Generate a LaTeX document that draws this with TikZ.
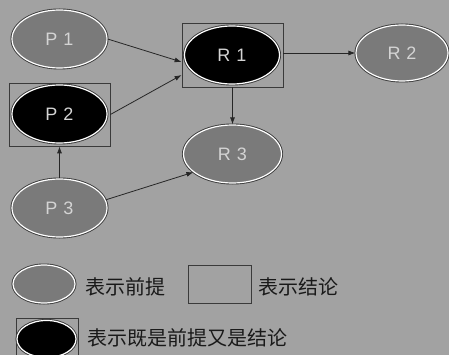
\documentclass[tikz,border=0pt]{standalone}
\usepackage{fontspec}
\setmainfont{Liberation Sans}
\newfontfamily\cjk{Noto Sans CJK SC}
\usetikzlibrary{shapes.geometric,arrows.meta,calc}
\definecolor{bg}{HTML}{A2A2A2}
\definecolor{hatchfill}{HTML}{7A7A7A}
\definecolor{lbl}{HTML}{D4D4D4}
\definecolor{rim}{HTML}{3A3A3A}
\tikzset{
  x=1pt,y=1pt,
  prem/.style={ellipse, minimum width=95pt, minimum height=58pt, inner sep=0pt,
    fill=hatchfill, draw=white, line width=1.2pt,
    preaction={draw=rim, line width=3pt},
    text=lbl, font=\fontsize{18}{18}\selectfont},
  both/.style={prem, fill=black},
  concl/.style={rectangle, draw=rim, line width=0.8pt, inner sep=0pt},
  conn/.style={-{Latex[length=7pt,width=5pt]}, line width=0.8pt, draw=black!85},
  legtext/.style={anchor=west, inner sep=0pt, text=black!90, font=\cjk\fontsize{20}{20}\selectfont}
}
\begin{document}
\begin{tikzpicture}
\useasboundingbox (0,0) rectangle (449,-355);
\clip (0,0) rectangle (449,-355);
\fill[bg] (0,0) rectangle (449,-355);

% conclusion boxes
\node[concl, minimum width=101pt, minimum height=64pt] (r1box) at (232.5,-55) {};
\node[concl, minimum width=101pt, minimum height=63pt] (p2box) at (59.5,-114.5) {};

% ellipses
\node[prem] (p1) at (59.5,-39) {P\,\,1};
\node[both] (p2) at (59.5,-114) {P\,\,2};
\node[prem] (p3) at (59.5,-208) {P\,\,3};
\node[both] (r1) at (232,-55) {R\,\,1};
\node[prem, minimum width=92pt, minimum height=56pt] (r2) at (402,-53) {R\,\,2};
\node[prem, minimum width=98pt, minimum height=58pt] (r3) at (232.5,-154) {R\,\,3};

% connectors
\draw[conn] (p1.east) -- ($(r1box.west)+(0,-7)$);
\draw[conn] (p2box.east) -- ($(r1box.west)+(0,-20)$);
\draw[conn] (r1box.east |- r2.west) -- (r2.west);
\draw[conn] (r1box.south) -- (r3.north);
\draw[conn] (p3.north) -- (p2box.south);
\draw[conn] (p3.10) -- (r3.205);

% legend
\node[prem, minimum width=62pt, minimum height=38pt] (lp) at (44,-284) {};
\node[legtext] (lpt) at (85,-287) {表示前提};
\node[concl, minimum width=63pt, minimum height=38pt] (lc) at (219.5,-284) {};
\node[legtext] (lct) at (258,-287) {表示结论};
\node[concl, minimum width=62pt, minimum height=40pt] (lbbox) at (47,-338) {};
\node[both, minimum width=59pt, minimum height=37pt] (lb) at (46.5,-339) {};
\node[legtext] (lbt) at (87,-338) {表示既是前提又是结论};
\end{tikzpicture}
\end{document}
